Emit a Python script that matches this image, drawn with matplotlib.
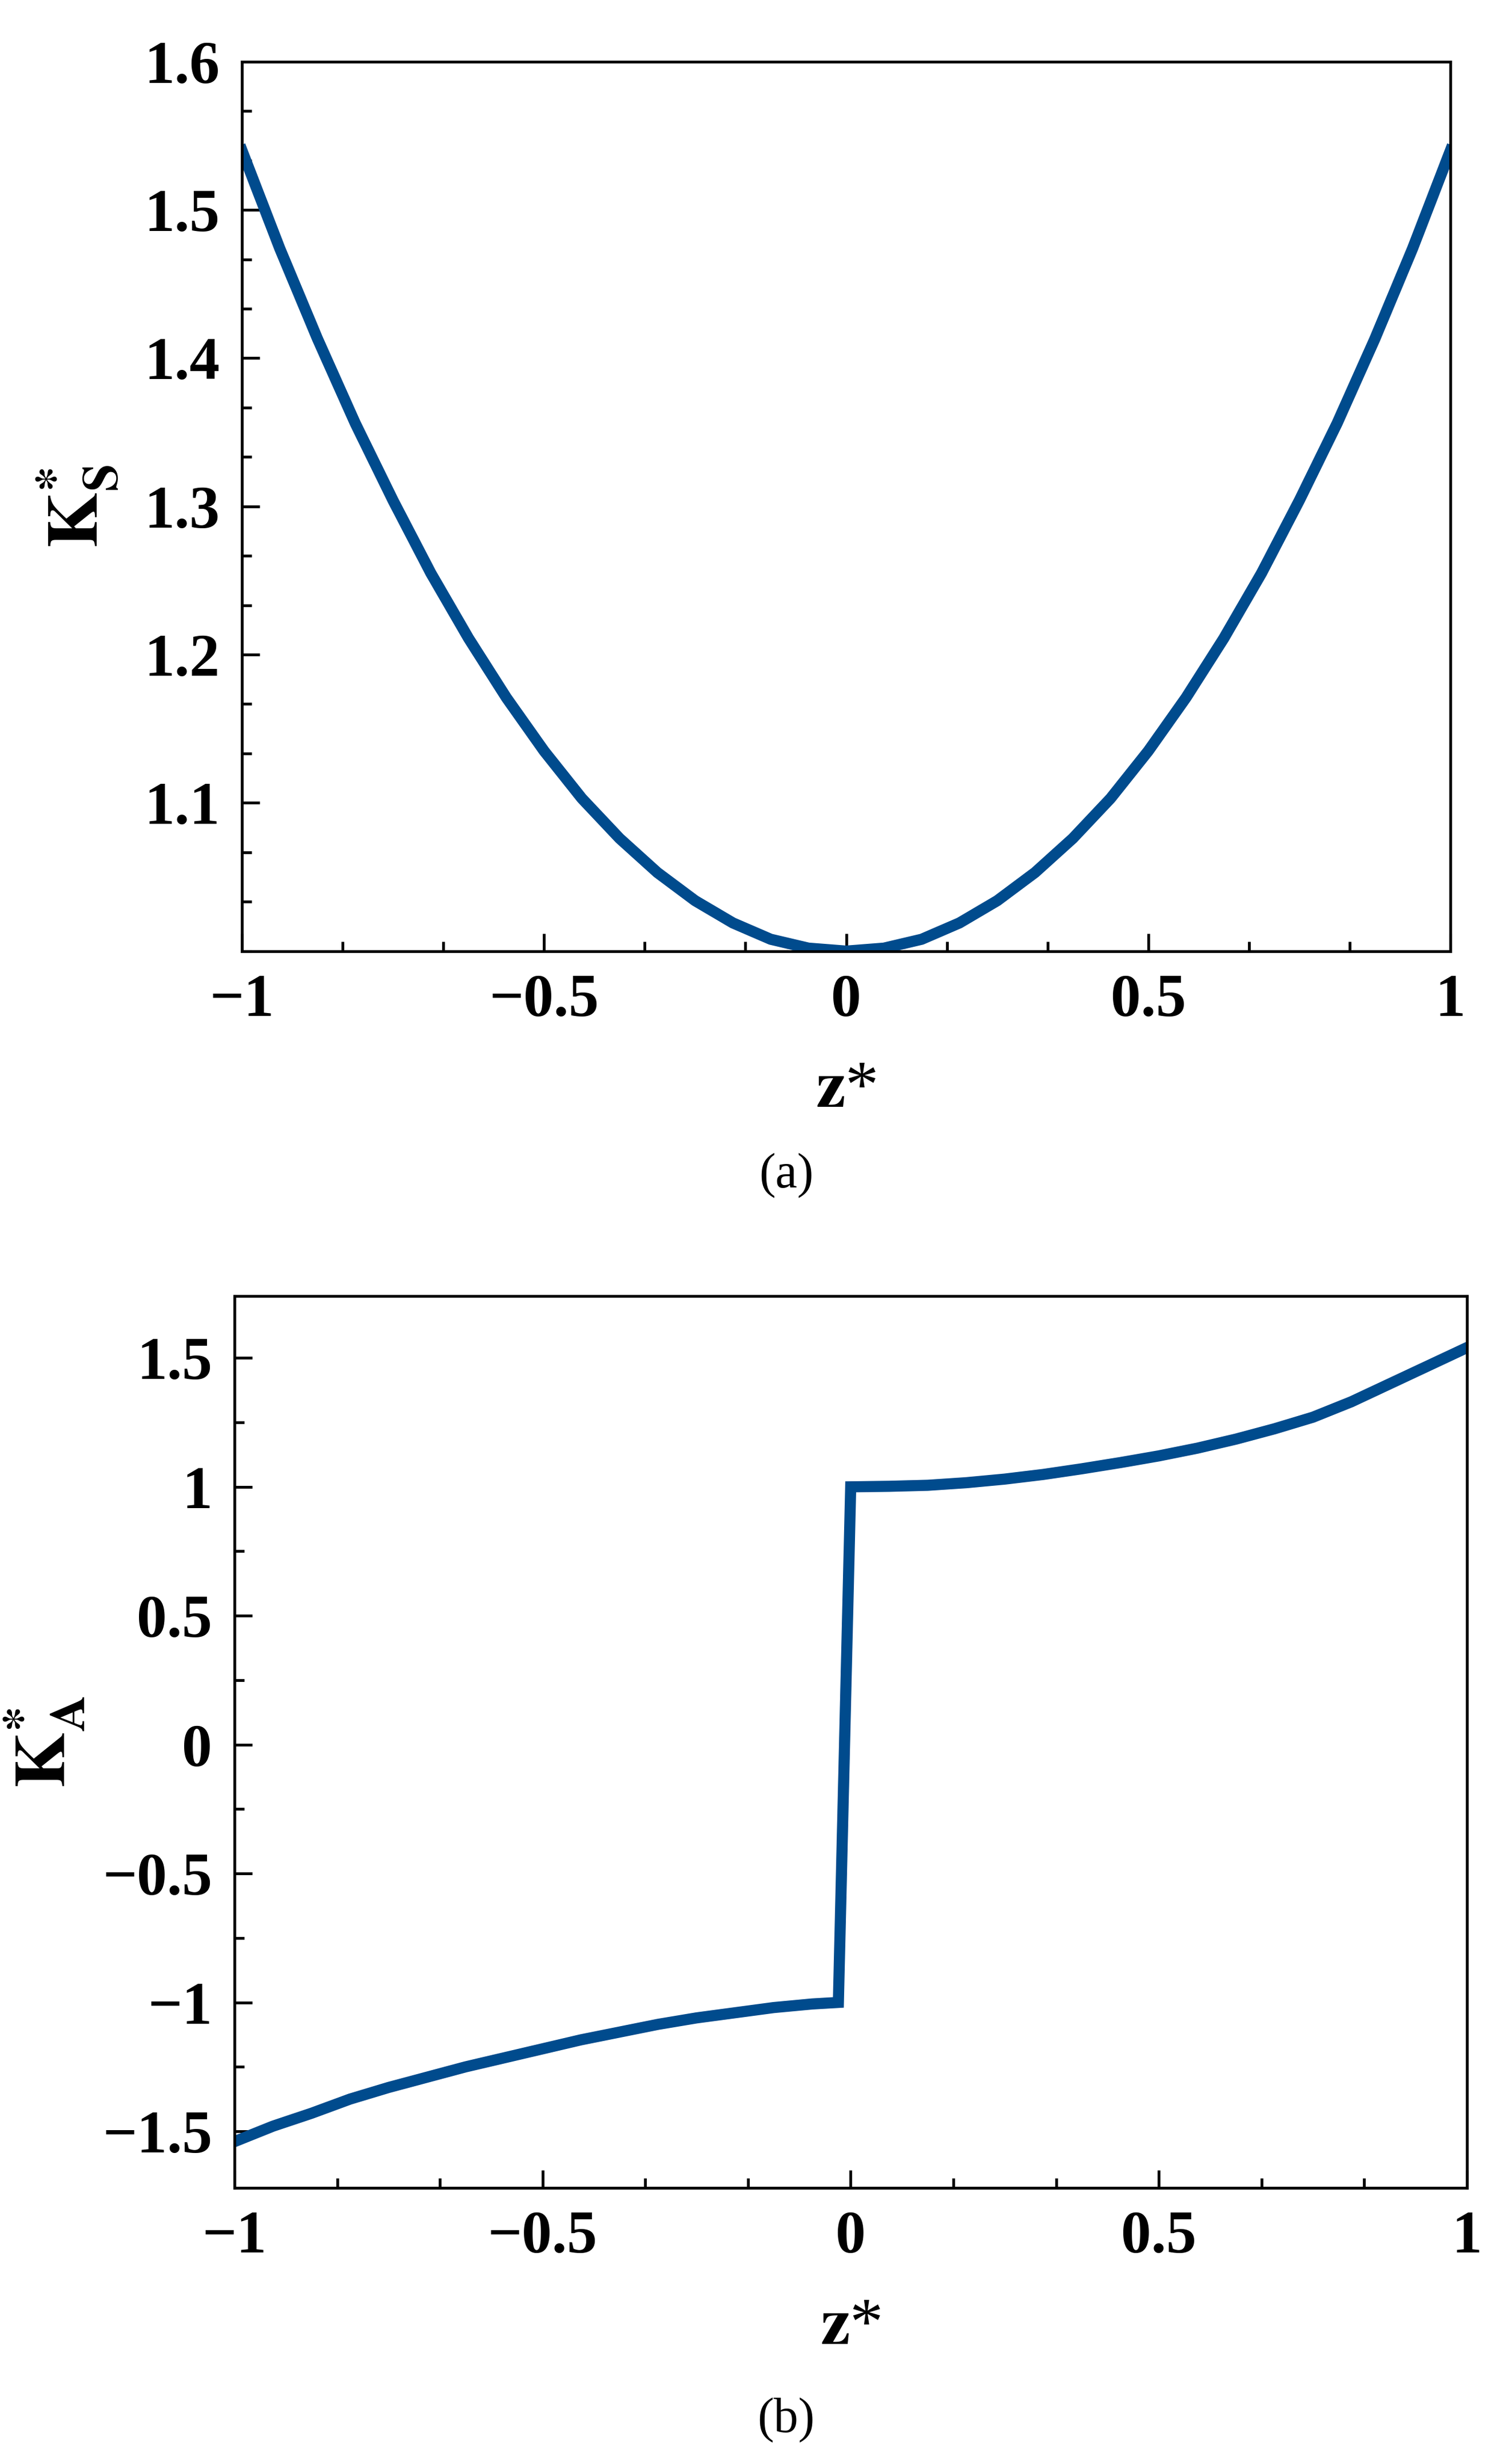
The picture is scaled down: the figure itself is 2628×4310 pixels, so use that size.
import numpy as np
import matplotlib.pyplot as plt
from matplotlib.ticker import MultipleLocator

plt.rcParams['font.family'] = ['Liberation Serif', 'DejaVu Serif']
plt.rcParams['font.weight'] = 'bold'
plt.rcParams['mathtext.fontset'] = 'stix'

# panel (a): symmetric K*_S
z_a = [-1, -0.9375, -0.875, -0.8125, -0.75, -0.6875, -0.625, -0.5625, -0.5,
       -0.4375, -0.375, -0.3125, -0.25, -0.1875, -0.125, -0.0625, 0,
       0.0625, 0.125, 0.1875, 0.25, 0.3125, 0.375, 0.4375, 0.5,
       0.5625, 0.625, 0.6875, 0.75, 0.8125, 0.875, 0.9375, 1]
ks = [1.54, 1.474, 1.413, 1.356, 1.304, 1.255, 1.211, 1.171, 1.135,
      1.103, 1.076, 1.053, 1.034, 1.019, 1.008, 1.002, 1.0,
      1.002, 1.008, 1.019, 1.034, 1.053, 1.076, 1.103, 1.135,
      1.171, 1.211, 1.255, 1.304, 1.356, 1.413, 1.474, 1.54]

# panel (b): antisymmetric K*_A with jump near zero
z_b = [-1, -0.9375, -0.875, -0.8125, -0.75, -0.6875, -0.625, -0.5625, -0.5,
       -0.4375, -0.375, -0.3125, -0.25, -0.1875, -0.125, -0.0625, -0.02,
       0, 0.0625, 0.125, 0.1875, 0.25, 0.3125, 0.375, 0.4375, 0.5,
       0.5625, 0.625, 0.6875, 0.75, 0.8125, 0.875, 0.9375, 1]
ka = [-1.54, -1.48, -1.43, -1.375, -1.33, -1.29, -1.25, -1.215, -1.18,
      -1.145, -1.115, -1.085, -1.06, -1.04, -1.02, -1.006, -1.0,
      1.0, 1.002, 1.006, 1.016, 1.03, 1.048, 1.07, 1.094, 1.12,
      1.15, 1.185, 1.225, 1.27, 1.33, 1.40, 1.47, 1.54]

line_color = '#004b8d'
fig = plt.figure(figsize=(26.28, 43.10), dpi=100)

def style(ax):
    for s in ax.spines.values():
        s.set_linewidth(3.5)
    ax.tick_params(which='both', direction='in', width=3.5, labelsize=76, pad=28)
    ax.tick_params(which='major', length=22)
    ax.tick_params(which='minor', length=12)
    ax.xaxis.set_minor_locator(MultipleLocator(1 / 6))
    ax.set_xlim(-1, 1)
    ax.set_xticks([-1, -0.5, 0, 0.5, 1])
    ax.set_xticklabels(['\u22121', '\u22120.5', '0', '0.5', '1'])
    ax.set_xlabel(r'$\mathbf{z}$*', fontsize=84, labelpad=40)

ax1 = fig.add_axes([0.161, 0.614, 0.804, 0.361])
ax1.plot(z_a, ks, color=line_color, lw=14)
style(ax1)
ax1.set_ylim(1.0, 1.6)
ax1.set_yticks([1.1, 1.2, 1.3, 1.4, 1.5, 1.6])
ax1.yaxis.set_minor_locator(MultipleLocator(1 / 30))
ax1.set_ylabel(r'$\mathbf{K}^{*}_{\mathbf{S}}$', fontsize=90, labelpad=30)

ax2 = fig.add_axes([0.156, 0.112, 0.820, 0.362])
ax2.plot(z_b, ka, color=line_color, lw=14, solid_joinstyle='miter')
style(ax2)
ax2.set_ylim(-1.72, 1.74)
ax2.set_yticks([-1.5, -1, -0.5, 0, 0.5, 1, 1.5])
ax2.set_yticklabels(['\u22121.5', '\u22121', '\u22120.5', '0', '0.5', '1', '1.5'])
ax2.yaxis.set_minor_locator(MultipleLocator(0.25))
ax2.set_ylabel(r'$\mathbf{K}^{*}_{\mathbf{A}}$', fontsize=90, labelpad=20)

fig.text(0.523, 0.523, '(a)', fontsize=62, fontweight='normal', ha='center', va='center')
fig.text(0.523, 0.018, '(b)', fontsize=62, fontweight='normal', ha='center', va='center')

fig.savefig('out.png', dpi=100)
